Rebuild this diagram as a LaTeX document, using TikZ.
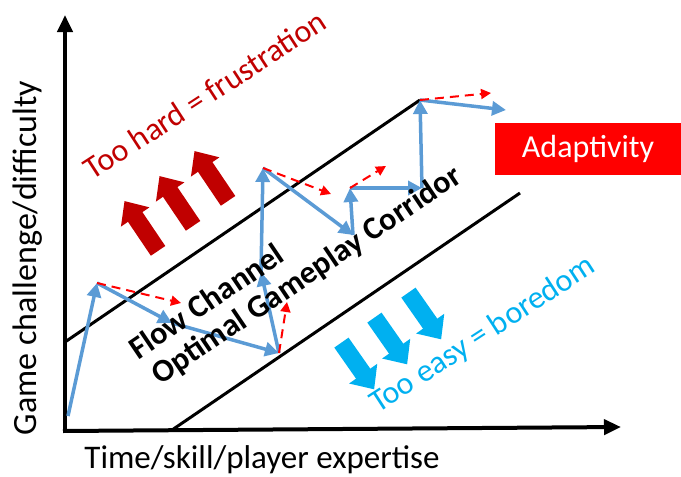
\documentclass[tikz,border=0pt]{standalone}
\usepackage{fontspec}
\setmainfont{Carlito}
\usetikzlibrary{arrows.meta,shapes.arrows}
\definecolor{hardred}{HTML}{C00000}
\definecolor{easyblue}{HTML}{00B0F0}
\definecolor{pathblue}{HTML}{5B9BD5}

\begin{document}
\begin{tikzpicture}[x=1pt,y=-1pt,
  axis/.style={line width=4pt,-{Triangle[length=17pt,width=15pt]}},
  bound/.style={line width=3pt},
  move/.style={pathblue,line width=3.5pt,-{Triangle[length=14pt,width=14pt]}},
  try/.style={red,line width=2pt,dash pattern=on 9pt off 6pt,-{Triangle[length=10pt,width=10pt]}},
  push/.style={single arrow,draw=none,inner xsep=0pt,inner ysep=8.5pt,single arrow head extend=8.5pt,single arrow tip angle=84,minimum height=60pt},
  lbl/.style={font=\fontsize{32}{38}\selectfont,inner sep=0pt},
]
\useasboundingbox (0,0) rectangle (681,477);

% axes
\coordinate (o) at (65,431);
\coordinate (ytop) at (65,15);
\coordinate (xend) at (621,427);
\draw[axis] ([yshift=-2pt]o) -- (ytop);
\draw[axis] ([xshift=-2pt]o) -- (xend);
\node[lbl,font=\fontsize{33}{38}\selectfont] (xlab) at (262,460) {Time/skill/player expertise};
\node[lbl,font=\fontsize{34}{38}\selectfont,rotate=90] (ylab) at (28,258) {Game challenge/difficulty};

% corridor
\coordinate (u0) at (65,342);
\coordinate (u1) at (420,100);
\coordinate (l0) at (172,430);
\coordinate (l1) at (520,193);
\draw[bound] (u0) -- (u1);
\draw[bound] (l0) -- (l1);

% player path
\coordinate (p0) at (68,416);
\coordinate (p1) at (97,283);
\coordinate (p2) at (172,323);
\coordinate (p3) at (279,353);
\coordinate (p4) at (261,272);
\coordinate (p5) at (263,168);
\coordinate (p6) at (353,235);
\coordinate (p7) at (350,188);
\coordinate (p8) at (422,188);
\coordinate (p9) at (420,100);
\coordinate (p10) at (506,110);
\path[move]
(p0) edge (p1)
(p1) edge (p2)
(p2) edge (p3)
(p3) edge (p4)
(p4) edge (p5)
(p5) edge (p6)
(p6) edge (p7)
(p7) edge (p8)
(p8) edge (p9)
(p9) edge (p10);

% adaptive corrections
\coordinate (r1) at (181,303);
\coordinate (r2) at (287,302);
\coordinate (r3) at (331,194);
\coordinate (r4) at (386,166);
\coordinate (r5) at (491,93);
\path[try]
(p1) edge (r1)
(p3) edge (r2)
(p5) edge (r3)
(p7) edge (r4)
(p9) edge (r5);

% too hard / too easy
\node[push,fill=hardred,rotate=124] (h1) at (144,230) {};
\node[push,fill=hardred,rotate=124] (h2) at (179,205) {};
\node[push,fill=hardred,rotate=124] (h3) at (214,180) {};
\node[push,fill=easyblue,rotate=-55,minimum height=57pt] (e1) at (355,362) {};
\node[push,fill=easyblue,rotate=-55,minimum height=57pt] (e2) at (388,337) {};
\node[push,fill=easyblue,rotate=-55,minimum height=57pt] (e3) at (422,312) {};

\node[lbl,hardred,rotate=33] (hard) at (205,95) {Too hard = frustration};
\node[lbl,easyblue,rotate=33] (easy) at (483,335) {Too easy = boredom};
\node[lbl,rotate=34,font=\fontsize{32}{38}\selectfont\bfseries] (flow) at (206,301) {Flow Channel};
\node[lbl,rotate=34,font=\fontsize{32}{38}\selectfont\bfseries] (corr) at (307,276) {Optimal Gameplay Corridor};

\node[fill=red,text=white,font=\fontsize{32}{38}\selectfont,minimum width=186pt,minimum height=52pt,inner sep=0pt] (adapt) at (588,149) {Adaptivity};
\end{tikzpicture}
\end{document}
